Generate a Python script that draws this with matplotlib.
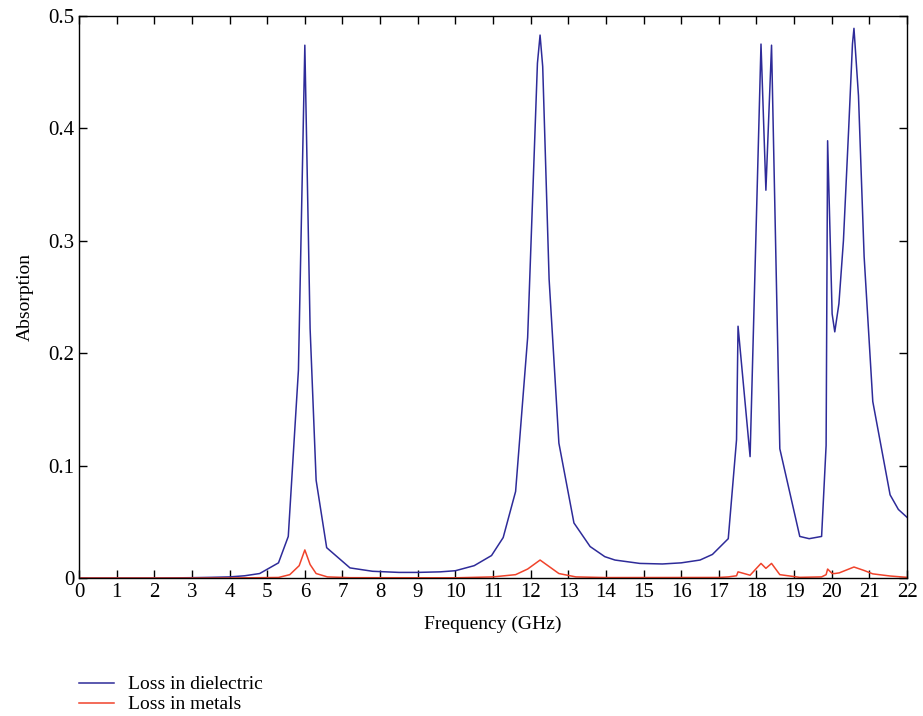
import matplotlib
matplotlib.use('Agg')
import matplotlib.pyplot as plt

plt.rcParams['font.family'] = ['Liberation Serif', 'DejaVu Serif']

# loss in dielectric
freq_d = [0, 1, 2, 3, 3.5, 4, 4.4, 4.8, 5.3, 5.56, 5.83, 6.0, 6.14, 6.3, 6.58,
          7.2, 7.8, 8.5, 9.0, 9.6, 10.0, 10.5, 10.96, 11.27, 11.6, 11.92, 12.18,
          12.25, 12.32, 12.49, 12.75, 13.15, 13.58, 13.97, 14.24, 14.9, 15.5,
          16.0, 16.5, 16.83, 17.25, 17.47, 17.51, 17.83, 18.12, 18.25, 18.40,
          18.62, 19.15, 19.40, 19.73, 19.85, 19.89, 20.01, 20.08, 20.19, 20.31,
          20.45, 20.55, 20.59, 20.71, 20.86, 21.09, 21.55, 21.77, 22.0]
loss_d = [0, 0, 0, 0.0003, 0.0006, 0.001, 0.002, 0.004, 0.0135, 0.037, 0.185,
          0.474, 0.222, 0.087, 0.027, 0.009, 0.006, 0.005, 0.005, 0.0055, 0.0065,
          0.011, 0.020, 0.036, 0.077, 0.214, 0.458, 0.483, 0.455, 0.266, 0.120,
          0.049, 0.028, 0.019, 0.016, 0.013, 0.0125, 0.0135, 0.016, 0.021, 0.035,
          0.123, 0.224, 0.108, 0.475, 0.345, 0.474, 0.115, 0.037, 0.035, 0.037,
          0.118, 0.389, 0.235, 0.219, 0.244, 0.30, 0.40, 0.475, 0.489, 0.429,
          0.286, 0.157, 0.074, 0.061, 0.054]

# loss in metals
freq_m = [0, 4, 5.3, 5.6, 5.85, 6.0, 6.14, 6.3, 6.6, 7.2, 10.0, 11.0, 11.6,
          11.92, 12.25, 12.5, 12.75, 13.2, 14.0, 17.0, 17.25, 17.47, 17.51,
          17.83, 18.12, 18.25, 18.40, 18.62, 19.15, 19.73, 19.85, 19.89, 20.01,
          20.08, 20.2, 20.59, 20.86, 21.09, 21.55, 22.0]
loss_m = [0, 0, 0.0005, 0.003, 0.011, 0.025, 0.012, 0.004, 0.001, 0.0003, 0.0002,
          0.001, 0.003, 0.008, 0.016, 0.010, 0.004, 0.001, 0.0004, 0.0005, 0.001,
          0.002, 0.0055, 0.0025, 0.013, 0.0086, 0.013, 0.003, 0.0006, 0.001, 0.003,
          0.008, 0.004, 0.004, 0.0046, 0.0098, 0.0067, 0.0037, 0.0018, 0.0006]

fig = plt.figure(figsize=(9.23, 7.16), dpi=100)
ax = fig.add_axes([0.0856, 0.1927, 0.8971, 0.785])

ax.plot(freq_d, loss_d, color='#2e2b99', lw=1.1, label='Loss in dielectric')
ax.plot(freq_m, loss_m, color='#f0432b', lw=1.1, label='Loss in metals')

ax.set_xlim(0, 22)
ax.set_ylim(0, 0.5)
ax.set_xticks(range(0, 23))
ax.set_yticks([0, 0.1, 0.2, 0.3, 0.4, 0.5])
ax.set_yticklabels(['0', '0.1', '0.2', '0.3', '0.4', '0.5'])
ax.tick_params(direction='in', top=True, right=True, labelsize=15, length=6, width=1)
for s in ax.spines.values():
    s.set_linewidth(1)

ax.set_xlabel('Frequency (GHz)', fontsize=14, labelpad=10)
ax.set_ylabel('Absorption', fontsize=14, labelpad=10)

fig.legend(loc='upper left', bbox_to_anchor=(0.077, 0.067), frameon=False,
           fontsize=14, handlelength=1.8, handletextpad=0.75,
           labelspacing=0.12, borderaxespad=0)

fig.savefig('out.png', dpi=100)
